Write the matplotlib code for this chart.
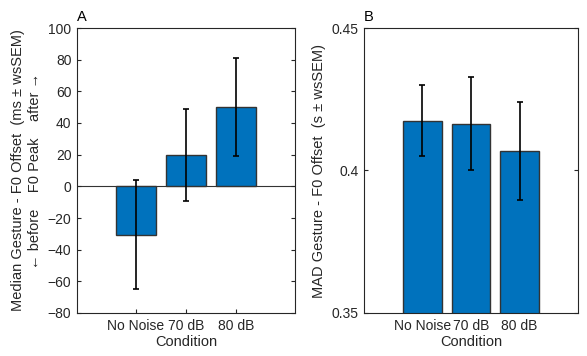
import numpy as np
import matplotlib
matplotlib.use('Agg')
import matplotlib.pyplot as plt

plt.rcParams['font.family'] = ['Liberation Sans', 'DejaVu Sans']
plt.rcParams['font.size'] = 10.5

conditions = ['No Noise', '70 dB', '80 dB']

# panel A: median gesture - F0 offset (ms)
median_vals = [-30.5, 20, 50]
median_lo = [-65, -9, 19]
median_hi = [4, 49, 81]

# panel B: MAD gesture - F0 offset (s)
mad_vals = [0.4174, 0.4163, 0.4069]
mad_lo = [0.4051, 0.4000, 0.3896]
mad_hi = [0.4299, 0.4327, 0.4242]

blue = '#0072BD'
txt = '#262626'

fig = plt.figure(figsize=(5.87, 3.56), dpi=100)
W, H = 587, 356
axA = fig.add_axes([77 / W, 1 - 313 / H, 218 / W, 285 / H])
axB = fig.add_axes([364 / W, 1 - 313 / H, 214 / W, 285 / H])


def draw(ax, vals, lo, hi):
    x = np.arange(1, len(vals) + 1)
    v = np.array(vals)
    err = [v - np.array(lo), np.array(hi) - v]
    ax.bar(x, v, width=0.8, color=blue, edgecolor='#333333', linewidth=1, zorder=2)
    ax.errorbar(x, v, yerr=err, fmt='none', ecolor='black', elinewidth=1.2,
                capsize=2.5, capthick=1.2, zorder=3)
    ax.set_xticks(x)
    ax.set_xticklabels(conditions)
    ax.set_xlabel('Condition', color=txt, labelpad=2)
    ax.tick_params(direction='in', top=False, right=True, colors=txt, length=3,
                   pad=4, labelsize=10)
    for s in ax.spines.values():
        s.set_linewidth(0.8)
        s.set_color('#262626')


draw(axA, median_vals, median_lo, median_hi)
axA.set_xlim(-0.18, 4.18)
axA.set_ylim(-80, 100)
axA.set_yticks(np.arange(-80, 101, 20))
axA.axhline(0, color='#333333', linewidth=0.8, zorder=1)
axA.set_ylabel('Median Gesture - F0 Offset  (ms \u00b1 wsSEM)\n'
               '\u2190 before    F0 Peak    after \u2192',
               color=txt, labelpad=4, linespacing=1.25)
axA.text(0, 1.015, 'A', transform=axA.transAxes, ha='left', va='bottom', color='black')

draw(axB, mad_vals, mad_lo, mad_hi)
axB.set_xlim(-0.2, 4.2)
axB.set_ylim(0.35, 0.45)
axB.set_yticks([0.35, 0.4, 0.45])
axB.set_yticklabels(['0.35', '0.4', '0.45'])
axB.set_ylabel('MAD Gesture - F0 Offset  (s \u00b1 wsSEM)', color=txt, labelpad=4)
axB.text(0, 1.015, 'B', transform=axB.transAxes, ha='left', va='bottom', color='black')

fig.savefig('out.png', dpi=100)
